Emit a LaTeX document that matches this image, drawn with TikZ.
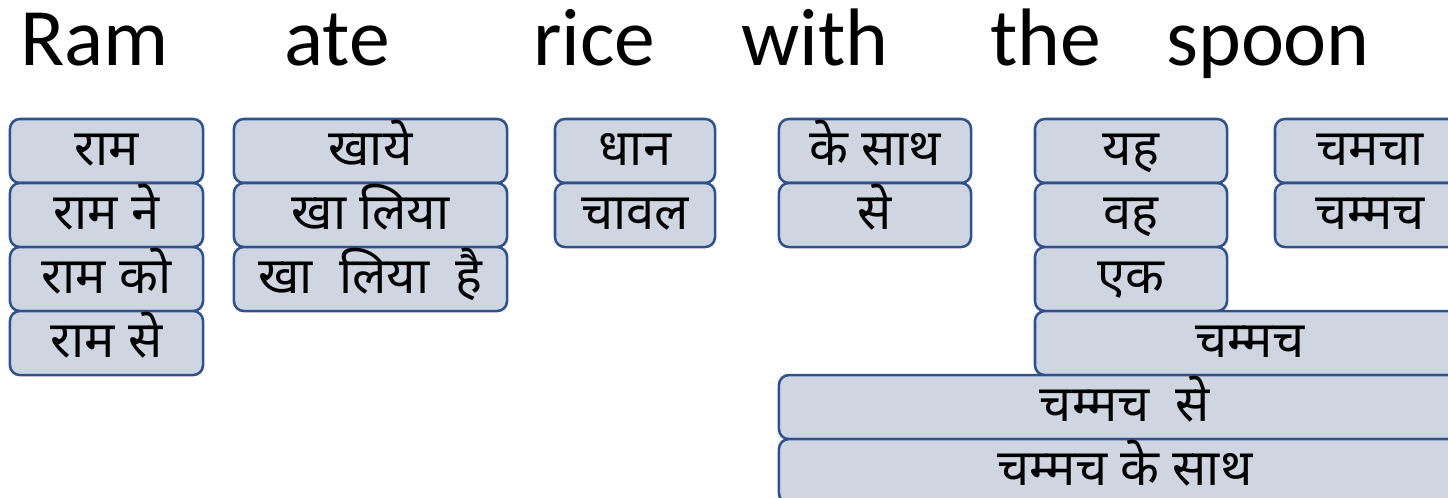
\documentclass[tikz,border=0pt]{standalone}
\usepackage{fontspec}
\setmainfont{Carlito}
\newfontfamily\hindi[Script=Devanagari]{Noto Sans}
\usetikzlibrary{positioning}

\definecolor{chunkfill}{HTML}{D0D5E2}
\definecolor{chunkline}{HTML}{2F528F}

\tikzset{
  gloss/.style={anchor=base west,inner sep=0pt,font=\fontsize{58}{60}\selectfont},
  chunk/.style={draw=chunkline,line width=1.8pt,fill=chunkfill,rounded corners=7pt,
    minimum height=1.6cm,inner sep=0pt,outer sep=0pt,
    font=\hindi\fontsize{36}{40}\selectfont,text height=20pt,text depth=0pt},
}

\begin{document}
\begin{tikzpicture}[x=0.025cm,y=-0.025cm]
  \useasboundingbox (0,0) rectangle (1448,498);
  \clip (0,0) rectangle (1448,498);

  % english words
  \node[gloss] (wram)   at (20,66)   {Ram};
  \node[gloss] (wate)   at (284,66)  {ate};
  \node[gloss] (wrice)  at (533,66)  {rice};
  \node[gloss] (wwith)  at (741,66)  {with};
  \node[gloss] (wthe)   at (990,66)  {the};
  \node[gloss] (wspoon) at (1166,66) {spoon};

  % Ram
  \node[chunk,minimum width=4.825cm] (ram)   at (106.5,151) {राम};
  \node[chunk,minimum width=4.825cm,below=0pt of ram]   (ramne) {राम ने};
  \node[chunk,minimum width=4.825cm,below=0pt of ramne] (ramko) {राम को};
  \node[chunk,minimum width=4.825cm,below=0pt of ramko] (ramse) {राम से};

  % ate
  \node[chunk,minimum width=6.825cm] (khaye) at (370.5,151) {खाये};
  \node[chunk,minimum width=6.825cm,below=0pt of khaye] (khaliya) {खा लिया};
  \node[chunk,minimum width=6.825cm,below=0pt of khaliya] (khaliyahai) {खा\ \ लिया\ \ है};

  % rice
  \node[chunk,minimum width=4cm] (dhan) at (635,151) {धान};
  \node[chunk,minimum width=4cm,below=0pt of dhan] (chaval) {चावल};

  % with
  \node[chunk,minimum width=4.8cm] (kesath) at (875,151) {के साथ};
  \node[chunk,minimum width=4.8cm,below=0pt of kesath] (se) {से};

  % the
  \node[chunk,minimum width=4.8cm] (yah) at (1131,151) {यह};
  \node[chunk,minimum width=4.8cm,below=0pt of yah] (vah) {वह};
  \node[chunk,minimum width=4.8cm,below=0pt of vah] (ek) {एक};

  % spoon
  \node[chunk,minimum width=4.75cm] (chamcha) at (1370,151) {चमचा};
  \node[chunk,minimum width=4.75cm,below=0pt of chamcha] (chammach) {चम्मच};

  % longer spans
  \node[chunk,minimum width=10.75cm,anchor=north west] (thespoon) at (ek.south west) {चम्मच};
  \node[chunk,minimum width=17.3cm,anchor=north west] (withspoon) at (se.south west |- thespoon.south) {चम्मच\ \ से};
  \node[chunk,minimum width=17.3cm,below=0pt of withspoon] (withspoon2) {चम्मच के साथ};
\end{tikzpicture}
\end{document}
